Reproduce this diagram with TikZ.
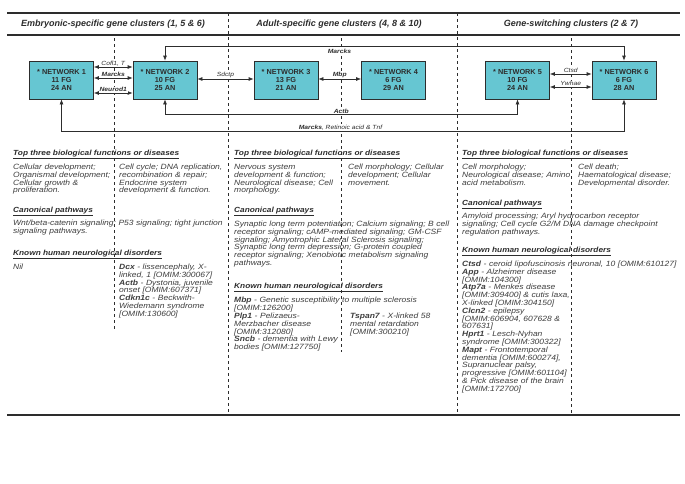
\documentclass[tikz,border=0pt]{standalone}
\usepackage{fontspec}
\setmainfont{Liberation Sans}
\newfontfamily\bodyfont{Liberation Sans}[FakeStretch=1.12]
\usetikzlibrary{arrows.meta,positioning,calc}
\definecolor{netcyan}{RGB}{102,198,210}
\definecolor{inkgray}{RGB}{45,45,45}
\definecolor{textgray}{RGB}{62,62,62}

\begin{document}
\begin{tikzpicture}[x=1pt,y=-1pt]
\tikzset{netbox/.style={draw=inkgray,fill=netcyan,line width=0.6pt,minimum width=64pt,minimum height=38pt,inner sep=0pt,align=center,font=\fontsize{7.3}{8}\selectfont\bfseries,text=inkgray}}
\tikzset{link/.style={draw=inkgray,line width=0.6pt,{Latex[length=5pt,width=3.8pt]}-{Latex[length=5pt,width=3.8pt]}}}
\tikzset{linklabel/.style={font=\bodyfont\fontsize{6}{6}\selectfont\itshape,text=inkgray,fill=white,inner sep=0.8pt}}
\tikzset{divider/.style={draw=inkgray,line width=0.6pt,dash pattern=on 3pt off 3pt}}
\tikzset{sectionrule/.style={draw=inkgray,line width=2pt}}
\tikzset{colhead/.style={font=\fontsize{9}{9}\selectfont\bfseries\itshape,text=inkgray}}
\tikzset{sechead/.style={anchor=base west,inner sep=0pt,font=\bodyfont\fontsize{7.4}{7.8}\selectfont\bfseries\itshape,text=inkgray}}
\tikzset{bodytext/.style={anchor=base west,inner sep=0pt,text width=230pt,align=left,font=\bodyfont\fontsize{7.6}{7.8}\selectfont\itshape,text=textgray}}

\fill[white] (0,0) rectangle (685,483);
\useasboundingbox (0,0) rectangle (685,483);

\draw[divider] (228,13) -- (228,415);
\draw[divider] (457,13) -- (457,415);
\draw[divider] (114,38) -- (114,330);
\draw[divider] (341,38) -- (341,352);
\draw[divider] (571,38) -- (571,415);

\draw[sectionrule] (7,13) -- (680,13);
\draw[sectionrule] (7,35) -- (680,35);
\draw[sectionrule] (7,415) -- (680,415);

\node[colhead] (embhead) at (113,24) {Embryonic-specific gene clusters (1, 5 \& 6)};
\node[colhead] (adhead) at (339,24) {Adult-specific gene clusters (4, 8 \& 10)};
\node[colhead] (swhead) at (571,24) {Gene-switching clusters (2 \& 7)};

\node[netbox] (n1) at (61.5,80) {* NETWORK 1\\11 FG\\24 AN};
\node[netbox] (n2) at (165,80) {* NETWORK 2\\10 FG\\25 AN};
\node[netbox] (n3) at (286,80) {* NETWORK 3\\13 FG\\21 AN};
\node[netbox] (n4) at (393.5,80) {* NETWORK 4\\6 FG\\29 AN};
\node[netbox] (n5) at (517.5,80) {* NETWORK 5\\10 FG\\24 AN};
\node[netbox] (n6) at (624,80) {* NETWORK 6\\6 FG\\28 AN};

\draw[link] ([yshift=13pt]n1.east) -- node[linklabel,above]{Cofl1, T} ([yshift=13pt]n2.west);
\draw[link] ([yshift=2pt]n1.east) -- node[linklabel,above]{\textbf{Marcks}} ([yshift=2pt]n2.west);
\draw[link] ([yshift=-13pt]n1.east) -- node[linklabel,above]{\textbf{Neurod1}} ([yshift=-13pt]n2.west);
\draw[link] ([yshift=1pt]n2.east) -- node[linklabel,above]{Sdctp} ([yshift=1pt]n3.west);
\draw[link] ([yshift=1pt]n3.east) -- node[linklabel,above]{\textbf{Mbp}} ([yshift=1pt]n4.west);
\draw[link] ([yshift=6pt]n5.east) -- node[linklabel,above]{Ctsd} ([yshift=6pt]n6.west);
\draw[link] ([yshift=-7pt]n5.east) -- node[linklabel,above]{Ywhae} ([yshift=-7pt]n6.west);
\draw[link] (n2.north) -- ++(0,-14) -| node[linklabel,pos=0.19,below=1.5pt]{\textbf{Marcks}} (n6.north);
\draw[link] (n2.south) -- ++(0,15) -| node[linklabel,pos=0.25,above]{\textbf{Actb}} (n5.south);
\draw[link] (n1.south) -- ++(0,32) -| node[linklabel,pos=0.248,above]{\textbf{Marcks}, Retinoic acid \& Tnf} (n6.south);

\node[sechead] (embfunchd) at (13,155.5) {\underline{Top three biological functions or diseases}};
\node[bodytext] (embfunc1) at (13,169.5) {Cellular development;\\Organismal development;\\Cellular growth \&\\proliferation.};
\node[bodytext] (embfunc2) at (119,169.5) {Cell cycle; DNA replication,\\recombination \& repair;\\Endocrine system\\development \& function.};
\node[sechead] (embpathhd) at (13,212.5) {\underline{Canonical pathways}};
\node[bodytext] (embpath) at (13,225.5) {Wnt/beta-catenin signaling; P53 signaling; tight junction\\signaling pathways.};
\node[sechead] (embdishd) at (13,255.5) {\underline{Known human neurological disorders}};
\node[bodytext] (embdis1) at (13,269.5) {Nil};
\node[bodytext] (embdis2) at (119,269.5) {\textbf{Dcx} - lissencephaly, X-\\linked, 1 [OMIM:300067]\\\textbf{Actb} - Dystonia, juvenile\\onset [OMIM:607371]\\\textbf{Cdkn1c} - Beckwith-\\Wiedemann syndrome\\{}[OMIM:130600]};

\node[sechead] (adfunchd) at (234,155.5) {\underline{Top three biological functions or diseases}};
\node[bodytext] (adfunc1) at (234,169.5) {Nervous system\\development \& function;\\Neurological disease; Cell\\morphology.};
\node[bodytext] (adfunc2) at (348,169.5) {Cell morphology; Cellular\\development; Cellular\\movement.};
\node[sechead] (adpathhd) at (234,212.5) {\underline{Canonical pathways}};
\node[bodytext] (adpath) at (234,226.5) {Synaptic long term potentiation; Calcium signaling; B cell\\receptor signaling; cAMP-mediated signaling; GM-CSF\\signaling; Amyotrophic Lateral Sclerosis signaling;\\Synaptic long term depression; G-protein coupled\\receptor signaling; Xenobiotic metabolism signaling\\pathways.};
\node[sechead] (addishd) at (234,288.5) {\underline{Known human neurological disorders}};
\node[bodytext] (addis1) at (234,302.5) {\textbf{Mbp} - Genetic susceptibility to multiple sclerosis\\{}[OMIM:126200]};
\node[bodytext] (addis2) at (234,318.5) {\textbf{Plp1} - Pelizaeus-\\Merzbacher disease\\{}[OMIM:312080]\\\textbf{Sncb} - dementia with Lewy\\bodies [OMIM:127750]};
\node[bodytext] (addis3) at (350,318.5) {\textbf{Tspan7} - X-linked 58\\mental retardation\\{}[OMIM:300210]};

\node[sechead] (swfunchd) at (462,155.5) {\underline{Top three biological functions or diseases}};
\node[bodytext] (swfunc1) at (462,169.5) {Cell morphology;\\Neurological disease; Amino\\acid metabolism.};
\node[bodytext] (swfunc2) at (578,169.5) {Cell death;\\Haematological disease;\\Developmental disorder.};
\node[sechead] (swpathhd) at (462,205.5) {\underline{Canonical pathways}};
\node[bodytext] (swpath) at (462,218.5) {Amyloid processing; Aryl hydrocarbon receptor\\signaling; Cell cycle G2/M DNA damage checkpoint\\regulation pathways.};
\node[sechead] (swdishd) at (462,252.5) {\underline{Known human neurological disorders}};
\node[bodytext] (swdis) at (462,266.5) {\textbf{Ctsd} - ceroid lipofuscinosis neuronal, 10 [OMIM:610127]\\\textbf{App} - Alzheimer disease\\{}[OMIM:104300]\\\textbf{Atp7a} - Menkes disease\\{}[OMIM:309400] \& cutis laxa,\\X-linked [OMIM:304150]\\\textbf{Clcn2} - epilepsy\\{}[OMIM:606904, 607628 \&\\607631]\\\textbf{Hprt1} - Lesch-Nyhan\\syndrome [OMIM:300322]\\\textbf{Mapt} - Frontotemporal\\dementia [OMIM:600274],\\Supranuclear palsy,\\progressive [OMIM:601104]\\\& Pick disease of the brain\\{}[OMIM:172700]};
\end{tikzpicture}
\end{document}
